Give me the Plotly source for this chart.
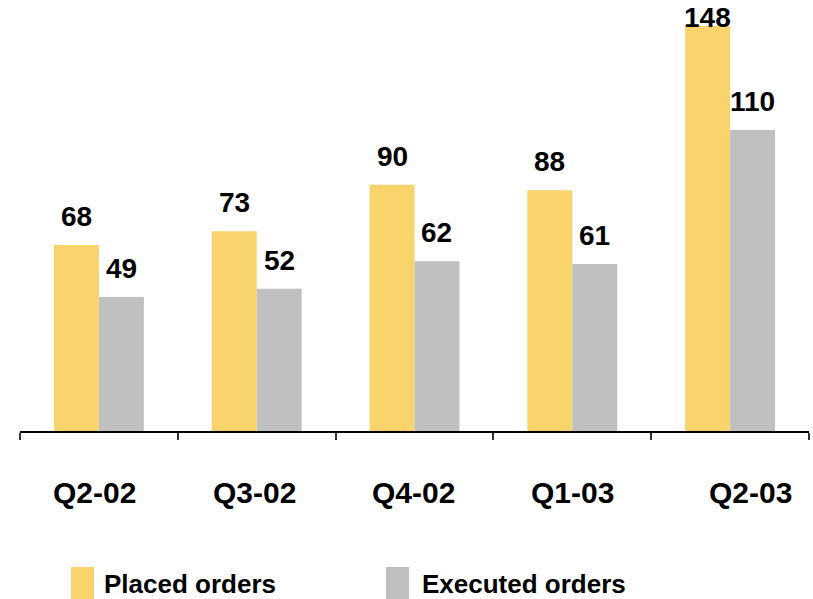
import plotly.graph_objects as go

# Quarterly order counts
quarters = ["Q2-02", "Q3-02", "Q4-02", "Q1-03", "Q2-03"]
placed_orders = [68, 73, 90, 88, 148]
executed_orders = [49, 52, 62, 61, 110]
series_names = ["Placed orders", "Executed orders"]

# Styling
YELLOW = "#F9D36B"
GREY = "#C0C0C0"
FONT = "Liberation Sans, Arial, sans-serif"

W, H = 813, 599
M_L, M_R, M_T, M_B = 20, 4, 0, 168
PLOT_W = W - M_L - M_R
PLOT_H = H - M_T - M_B
Y_MAX = 157.5
BARGAP = 0.43
PX_PER_UNIT = PLOT_H / Y_MAX

fig = go.Figure()
for name, vals, color in [(series_names[0], placed_orders, YELLOW),
                          (series_names[1], executed_orders, GREY)]:
    fig.add_trace(go.Bar(x=quarters, y=vals, name=name,
                         marker=dict(color=color, line=dict(width=0)),
                         showlegend=False, hoverinfo="skip"))

annotations = []

# Value labels above each bar (kept inside the top of the frame)
bar_w = (1 - BARGAP) / 2
label_gap_px = 17
top_limit_px = PLOT_H - 29
for k, vals in enumerate([placed_orders, executed_orders]):
    offset = (-0.5 + k) * bar_w
    for i, v in enumerate(vals):
        bottom_px = min(v * PX_PER_UNIT + label_gap_px, top_limit_px)
        annotations.append(dict(
            x=i + offset, y=bottom_px / PX_PER_UNIT, xref="x", yref="y",
            text=str(v), showarrow=False, xanchor="center", yanchor="bottom",
            yshift=-6,
            font=dict(family=FONT, size=28, color="black", weight="bold")))

# Category labels under the axis
label_shift = [-4, -2, -1, 0, 20]
for i, q in enumerate(quarters):
    annotations.append(dict(
        x=i, y=0, xref="x", yref="y", text=q, showarrow=False,
        xanchor="center", yanchor="middle", yshift=-61, xshift=label_shift[i],
        font=dict(family=FONT, size=30, color="black", weight="bold")))

# Legend: swatches and names
def px_x(px):
    return (px - M_L) / PLOT_W

def px_y(py):
    return (M_T + PLOT_H - py) / PLOT_H

shapes = []
legend_items = [(71, 102, YELLOW, series_names[0]),
                (386, 420, GREY, series_names[1])]
for sx, tx, color, name in legend_items:
    shapes.append(dict(type="rect", xref="paper", yref="paper",
                       x0=px_x(sx), x1=px_x(sx + 23), y0=px_y(600), y1=px_y(567),
                       fillcolor=color, line=dict(width=0), layer="above"))
    annotations.append(dict(
        x=px_x(tx), y=px_y(584), xref="paper", yref="paper", text=name,
        showarrow=False, xanchor="left", yanchor="middle",
        font=dict(family=FONT, size=26, color="black", weight="bold")))

fig.update_layout(
    width=W, height=H,
    margin=dict(l=M_L, r=M_R, t=M_T, b=M_B),
    paper_bgcolor="white", plot_bgcolor="white",
    barmode="group", bargap=BARGAP, bargroupgap=0,
    xaxis=dict(type="category", range=[-0.5, len(quarters) - 0.5],
               showline=True, linecolor="black", linewidth=1.5,
               ticks="outside", tickson="boundaries", ticklen=7,
               tickcolor="#333333", tickwidth=1.5,
               showticklabels=False, showgrid=False, zeroline=False,
               fixedrange=True),
    yaxis=dict(range=[0, Y_MAX], visible=False, fixedrange=True),
    annotations=annotations,
    shapes=shapes,
)

fig.write_html("out.html")
